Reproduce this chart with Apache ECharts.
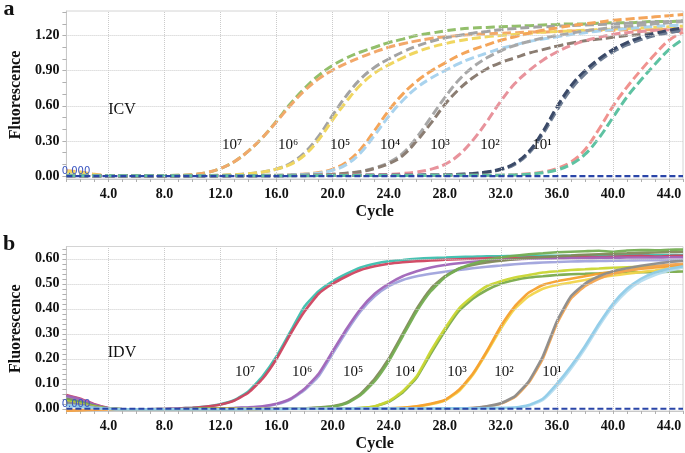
<!DOCTYPE html>
<html>
<head>
<meta charset="utf-8">
<script src="https://cdn.jsdelivr.net/npm/echarts@6/dist/echarts.min.js"></script>
<style>html,body{margin:0;padding:0;background:#fff;}#c{width:685px;height:453px;}</style>
</head>
<body>
<div id="c"></div>
<script>
var cycles = [1,2,3,4,5,6,7,8,9,10,11,12,13,14,15,16,17,18,19,20,21,22,23,24,25,26,27,28,29,30,31,32,33,34,35,36,37,38,39,40,41,42,43,44,45];
var xLabelVals = [4,8,12,16,20,24,28,32,36,40,44];
var topYLabelVals = [0,0.3,0.6,0.9,1.2];
var topYTickVals = [0,0.1,0.2,0.3,0.4,0.5,0.6,0.7,0.8,0.9,1.0,1.1,1.2,1.3,1.4];
var botYLabelVals = [0,0.1,0.2,0.3,0.4,0.5,0.6];
var botYTickVals = [0,0.02,0.04,0.06,0.08,0.1,0.12,0.14,0.16,0.18,0.2,0.22,0.24,0.26,0.28,0.3,0.32,0.34,0.36,0.38,0.4,0.42,0.44,0.46,0.48,0.5,0.52,0.54,0.56,0.58,0.6,0.62,0.64];
var dilutions = ['10\u2077','10\u2076','10\u2075','10\u2074','10\u00b3','10\u00b2','10\u00b9'];

// ICV (panel a) – dashed curves
var icv7a = [0.010,0.008,0.005,0.003,0.002, 0.002,0.003,0.004,0.006,0.012, 0.030,0.065,0.125,0.215,0.330, 0.470,0.620,0.750,0.860,0.945, 1.010,1.060,1.100,1.140,1.170, 1.200,1.220,1.240,1.255,1.265, 1.270,1.275,1.280,1.285,1.290, 1.295,1.300,1.300,1.305,1.310, 1.310,1.315,1.320,1.320,1.325];
var icv7b = [0.045,0.035,0.015,0.004,0.002, 0.002,0.003,0.004,0.006,0.012, 0.030,0.065,0.125,0.215,0.330, 0.465,0.605,0.730,0.830,0.905, 0.965,1.015,1.060,1.100,1.130, 1.155,1.175,1.190,1.200,1.210, 1.215,1.220,1.225,1.230,1.230, 1.235,1.240,1.240,1.245,1.245, 1.250,1.250,1.250,1.255,1.255];
var icv6a = [0.005,0.004,0.003,0.002,0.002, 0.002,0.002,0.003,0.003,0.004, 0.005,0.007,0.012,0.020,0.035, 0.060,0.110,0.200,0.340,0.520, 0.690,0.830,0.930,1.000,1.060, 1.110,1.150,1.180,1.200,1.220, 1.235,1.250,1.260,1.270,1.275, 1.280,1.285,1.290,1.295,1.300, 1.305,1.310,1.315,1.320,1.325];
var icv6b = [0.040,0.030,0.012,0.003,0.002, 0.002,0.002,0.003,0.003,0.004, 0.005,0.007,0.012,0.020,0.035, 0.060,0.100,0.180,0.310,0.480, 0.640,0.780,0.880,0.950,1.010, 1.060,1.100,1.130,1.155,1.175, 1.190,1.200,1.210,1.220,1.230, 1.235,1.240,1.245,1.250,1.255, 1.260,1.265,1.270,1.275,1.280];
var icv5a = [0.005,0.004,0.003,0.002,0.002, 0.002,0.002,0.002,0.003,0.003, 0.003,0.004,0.004,0.005,0.006, 0.008,0.012,0.018,0.030,0.060, 0.120,0.230,0.390,0.560,0.700, 0.810,0.895,0.965,1.030,1.080, 1.120,1.160,1.190,1.220,1.245, 1.265,1.285,1.300,1.315,1.330, 1.340,1.350,1.360,1.370,1.380];
var icv5b = [0.005,0.004,0.003,0.002,0.002, 0.002,0.002,0.002,0.003,0.003, 0.003,0.004,0.004,0.005,0.006, 0.008,0.011,0.016,0.025,0.050, 0.100,0.200,0.350,0.510,0.645, 0.755,0.835,0.900,0.960,1.010, 1.050,1.090,1.120,1.150,1.170, 1.190,1.210,1.225,1.240,1.250, 1.260,1.270,1.280,1.285,1.290];
var icv4a = [0.004,0.003,0.002,0.002,0.002, 0.002,0.002,0.002,0.002,0.003, 0.003,0.003,0.004,0.004,0.005, 0.005,0.006,0.008,0.010,0.015, 0.025,0.040,0.070,0.115,0.195, 0.330,0.500,0.670,0.820,0.930, 1.010,1.070,1.115,1.150,1.180, 1.200,1.220,1.240,1.255,1.270, 1.280,1.290,1.300,1.310,1.320];
var icv4b = [0.004,0.003,0.002,0.002,0.002, 0.002,0.002,0.002,0.002,0.003, 0.003,0.003,0.004,0.004,0.005, 0.005,0.006,0.008,0.010,0.015, 0.024,0.038,0.065,0.105,0.175, 0.300,0.450,0.610,0.740,0.840, 0.915,0.970,1.010,1.050,1.080, 1.110,1.135,1.155,1.170,1.185, 1.200,1.210,1.220,1.230,1.240];
var icv3a = [0.003,0.003,0.002,0.002,0.002, 0.002,0.002,0.002,0.002,0.002, 0.002,0.003,0.003,0.003,0.004, 0.004,0.005,0.005,0.006,0.007, 0.008,0.009,0.010,0.015,0.022, 0.035,0.058,0.100,0.180,0.305, 0.465,0.640,0.790,0.900,0.990, 1.060,1.115,1.155,1.185,1.210, 1.225,1.235,1.245,1.250,1.255];
var icv2a = [0.003,0.003,0.002,0.002,0.002, 0.002,0.002,0.002,0.002,0.002, 0.002,0.002,0.003,0.003,0.003, 0.003,0.004,0.004,0.004,0.005, 0.005,0.006,0.006,0.007,0.007, 0.008,0.009,0.010,0.015,0.022, 0.035,0.060,0.110,0.210,0.380, 0.590,0.770,0.900,1.000,1.080, 1.140,1.185,1.220,1.245,1.265];
var icv2b = [0.003,0.003,0.002,0.002,0.002, 0.002,0.002,0.002,0.002,0.002, 0.002,0.002,0.003,0.003,0.003, 0.003,0.004,0.004,0.004,0.005, 0.005,0.006,0.006,0.007,0.007, 0.008,0.009,0.010,0.014,0.020, 0.033,0.055,0.100,0.195,0.360, 0.560,0.740,0.870,0.980,1.060, 1.120,1.165,1.200,1.225,1.245];
var icv1a = [0.003,0.003,0.002,0.002,0.002, 0.002,0.002,0.002,0.002,0.002, 0.002,0.002,0.002,0.003,0.003, 0.003,0.003,0.003,0.004,0.004, 0.004,0.004,0.005,0.005,0.005, 0.005,0.006,0.006,0.006,0.007, 0.007,0.008,0.012,0.020,0.035, 0.065,0.120,0.225,0.400,0.595, 0.760,0.905,1.040,1.160,1.230];
var icv1b = [0.003,0.003,0.002,0.002,0.002, 0.002,0.002,0.002,0.002,0.002, 0.002,0.002,0.002,0.003,0.003, 0.003,0.003,0.003,0.004,0.004, 0.004,0.004,0.005,0.005,0.005, 0.005,0.006,0.006,0.006,0.007, 0.007,0.008,0.010,0.016,0.028, 0.052,0.100,0.185,0.325,0.500, 0.675,0.820,0.955,1.080,1.170];

// IDV (panel b) – solid curves
var idv7a = [0.050,0.035,0.015,0.002,-0.002, -0.002,-0.002,-0.001,0.001,0.004, 0.009,0.018,0.035,0.070,0.130, 0.210,0.310,0.410,0.470,0.510, 0.540,0.565,0.580,0.590,0.595, 0.600,0.603,0.605,0.607,0.608, 0.610,0.610,0.611,0.611,0.612, 0.612,0.612,0.613,0.613,0.613, 0.614,0.614,0.614,0.615,0.615];
var idv7b = [0.055,0.040,0.018,0.003,-0.002, -0.002,-0.002,-0.001,0.001,0.004, 0.009,0.017,0.033,0.065,0.120, 0.200,0.300,0.390,0.460,0.500, 0.530,0.555,0.570,0.580,0.586, 0.590,0.593,0.596,0.598,0.600, 0.602,0.604,0.603,0.605,0.606, 0.604,0.606,0.607,0.606,0.608, 0.610,0.612,0.609,0.611,0.612];
var idv6a = [0.052,0.038,0.016,0.002,-0.002, -0.002,-0.002,-0.002,-0.001,0.000, 0.000,0.001,0.003,0.006,0.010, 0.020,0.040,0.080,0.140,0.230, 0.320,0.400,0.460,0.500,0.530, 0.550,0.565,0.575,0.582,0.588, 0.592,0.595,0.598,0.600,0.601, 0.602,0.603,0.603,0.604,0.604, 0.605,0.605,0.605,0.606,0.606];
var idv6b = [0.045,0.032,0.013,0.001,-0.002, -0.002,-0.002,-0.002,-0.001,0.000, 0.000,0.001,0.003,0.005,0.009, 0.018,0.037,0.075,0.130,0.220, 0.310,0.390,0.450,0.490,0.515, 0.530,0.540,0.548,0.555,0.562, 0.568,0.573,0.578,0.582,0.585, 0.587,0.589,0.590,0.591,0.592, 0.593,0.594,0.594,0.595,0.595];
var idv5a = [0.040,0.028,0.012,0.001,-0.002, -0.002,-0.002,-0.002,-0.002,-0.001, 0.000,0.000,0.000,0.001,0.001, 0.001,0.002,0.002,0.005,0.010, 0.025,0.060,0.120,0.200,0.300, 0.400,0.480,0.530,0.560,0.575, 0.585,0.592,0.598,0.603,0.607, 0.610,0.613,0.616,0.618,0.620, 0.622,0.624,0.625,0.627,0.628];
var idv5b = [0.035,0.025,0.010,0.001,-0.002, -0.002,-0.002,-0.002,-0.002,-0.001, 0.000,0.000,0.000,0.001,0.001, 0.001,0.002,0.002,0.004,0.009, 0.022,0.055,0.110,0.190,0.290, 0.390,0.470,0.525,0.560,0.580, 0.595,0.605,0.612,0.618,0.622, 0.626,0.628,0.630,0.632,0.628, 0.633,0.635,0.634,0.636,0.637];
var idv4a = [0.030,0.020,0.008,0.000,-0.002, -0.002,-0.002,-0.002,-0.002,-0.002, -0.001,-0.001,0.000,0.000,0.000, 0.001,0.001,0.001,0.001,0.002, 0.002,0.003,0.010,0.030,0.070, 0.130,0.230,0.320,0.400,0.450, 0.490,0.510,0.525,0.535,0.545, 0.550,0.555,0.558,0.561,0.564, 0.566,0.568,0.570,0.572,0.574];
var idv4b = [0.030,0.020,0.008,0.000,-0.002, -0.002,-0.002,-0.002,-0.002,-0.002, -0.001,-0.001,0.000,0.000,0.000, 0.001,0.001,0.001,0.001,0.002, 0.002,0.003,0.009,0.028,0.065, 0.125,0.220,0.310,0.390,0.440, 0.475,0.500,0.515,0.525,0.530, 0.535,0.538,0.540,0.542,0.544, 0.545,0.546,0.547,0.548,0.549];
var idv3a = [-0.008,-0.006,-0.004,-0.002,-0.002, -0.002,-0.002,-0.002,-0.002,-0.002, -0.002,-0.001,-0.001,-0.001,0.000, 0.000,0.000,0.000,0.001,0.001, 0.001,0.001,0.002,0.002,0.004, 0.010,0.020,0.035,0.075,0.140, 0.230,0.330,0.410,0.465,0.495, 0.510,0.520,0.530,0.540,0.547, 0.553,0.560,0.565,0.570,0.575];
var idv3b = [0.020,0.012,0.005,0.000,-0.002, -0.002,-0.002,-0.002,-0.002,-0.002, -0.002,-0.001,-0.001,-0.001,0.000, 0.000,0.000,0.000,0.001,0.001, 0.001,0.001,0.002,0.002,0.004, 0.009,0.018,0.033,0.070,0.135, 0.225,0.320,0.400,0.450,0.480, 0.495,0.505,0.515,0.525,0.533, 0.540,0.547,0.553,0.560,0.565];
var idv2a = [0.025,0.016,0.006,0.000,-0.002, -0.002,-0.002,-0.002,-0.002,-0.002, -0.002,-0.002,-0.001,-0.001,-0.001, 0.000,0.000,0.000,0.000,0.000, 0.001,0.001,0.001,0.001,0.001, 0.002,0.002,0.002,0.002,0.003, 0.010,0.022,0.050,0.110,0.210, 0.350,0.450,0.500,0.530,0.550, 0.562,0.572,0.580,0.587,0.592];
var idv2b = [-0.006,-0.005,-0.003,-0.002,-0.002, -0.002,-0.002,-0.002,-0.002,-0.002, -0.002,-0.002,-0.001,-0.001,-0.001, 0.000,0.000,0.000,0.000,0.000, 0.001,0.001,0.001,0.001,0.001, 0.002,0.002,0.002,0.002,0.003, 0.009,0.020,0.047,0.105,0.200, 0.340,0.440,0.490,0.520,0.540, 0.552,0.562,0.570,0.576,0.580];
var idv1a = [0.015,0.010,0.004,0.000,-0.002, -0.002,-0.002,-0.002,-0.002,-0.002, -0.002,-0.002,-0.002,-0.001,-0.001, -0.001,0.000,0.000,0.000,0.000, 0.000,0.001,0.001,0.001,0.001, 0.001,0.001,0.002,0.002,0.002, 0.002,0.003,0.005,0.015,0.040, 0.100,0.170,0.250,0.340,0.420, 0.480,0.520,0.545,0.560,0.570];
var idv1b = [0.010,0.006,0.002,0.000,-0.002, -0.002,-0.002,-0.002,-0.002,-0.002, -0.002,-0.002,-0.002,-0.001,-0.001, -0.001,0.000,0.000,0.000,0.000, 0.000,0.001,0.001,0.001,0.001, 0.001,0.001,0.002,0.002,0.002, 0.002,0.003,0.004,0.012,0.035, 0.090,0.160,0.240,0.330,0.410, 0.470,0.510,0.535,0.552,0.565];

var threshold = 0;

var icvSeries = [
  [icv7a,'#93bf6b'],[icv7b,'#f2a86a'],[icv6a,'#a3a3a3'],[icv6b,'#f0d660'],
  [icv5a,'#f4a55a'],[icv5b,'#a9d3ee'],[icv4a,'#a8a8a8'],[icv4b,'#8b7d72'],
  [icv3a,'#e8939c'],[icv2b,'#6e7d93'],[icv2a,'#3b4a68'],[icv1a,'#f0928f'],[icv1b,'#5ec2a2']
];
var idvSeries = [
  [idv7a,'#3dbfae'],[idv7b,'#d0435f'],[idv6b,'#a0a3dc'],[idv6a,'#a064b8'],
  [idv5a,'#828a58'],[idv5b,'#74ad52'],[idv4b,'#7aab4c'],[idv4a,'#c9d631'],
  [idv3b,'#f2d54b'],[idv3a,'#f5a02e'],[idv2b,'#f3a450'],[idv2a,'#8c8c8c'],
  [idv1b,'#b5dcef'],[idv1a,'#8fcbe8']
];

function pts(arr){ return cycles.map(function(c,i){ return [c, arr[i]]; }); }

var serif = 'Liberation Serif, Times New Roman, serif';
var labelStyle = {fontFamily: serif, fontWeight: 'bold', fontSize: 14, color: '#111'};

function xAx(gi){
  return {
    type: 'value', gridIndex: gi, min: cycles[0], max: cycles[cycles.length-1],
    name: 'Cycle', nameLocation: 'middle', nameGap: 25,
    nameTextStyle: {fontFamily: serif, fontWeight: 'bold', fontSize: 16, color: '#111'},
    axisLine: {show: true, onZero: false, lineStyle: {color: '#c8c8c8'}},
    axisTick: {show: true, length: 3, customValues: cycles, lineStyle: {color: '#b0b0b0'}},
    axisLabel: Object.assign({margin: 8, customValues: xLabelVals,
      formatter: function(v){ return Number(v).toFixed(1); }}, labelStyle),
    splitLine: {show: false}
  };
}
function yAx(gi, min, max, labelVals, tickVals){
  return {
    type: 'value', gridIndex: gi, min: min, max: max,
    name: 'Fluorescence', nameLocation: 'middle', nameGap: 41, nameRotate: 90,
    nameTextStyle: {fontFamily: serif, fontWeight: 'bold', fontSize: 16, color: '#111'},
    axisLine: {show: true, onZero: false, lineStyle: {color: '#c8c8c8'}},
    axisTick: {show: true, length: 4, customValues: tickVals, lineStyle: {color: '#b0b0b0'}},
    axisLabel: Object.assign({margin: 7, customValues: labelVals,
      formatter: function(v){ return Number(v).toFixed(2); }}, labelStyle),
    splitLine: {show: false}
  };
}

var gridLineStyle = {color: '#cbcbcb', type: 'dotted', width: 1};
function gridLines(xi, yi, yVals){
  var d = xLabelVals.map(function(v){ return {xAxis: v}; })
    .concat(yVals.map(function(v){ return {yAxis: v}; }));
  return {type: 'line', xAxisIndex: xi, yAxisIndex: yi, data: [], z: 0, silent: true,
    markLine: {silent: true, symbol: 'none', animation: false, label: {show: false},
      lineStyle: gridLineStyle, emphasis: {disabled: true}, data: d}};
}

var series = [gridLines(0, 0, topYLabelVals.slice(1)), gridLines(1, 1, botYLabelVals.slice(1))];
icvSeries.forEach(function(s){
  series.push({type: 'line', xAxisIndex: 0, yAxisIndex: 0, data: pts(s[0]), smooth: 0.4, z: 2,
    showSymbol: false, silent: true, lineStyle: {color: s[1], width: 3, type: [9, 4]}});
});
idvSeries.forEach(function(s){
  series.push({type: 'line', xAxisIndex: 1, yAxisIndex: 1, data: pts(s[0]), smooth: 0.15, z: 2,
    showSymbol: false, silent: true, lineStyle: {color: s[1], width: 2.6, opacity: 0.95}});
});
[0, 1].forEach(function(ix){
  series.push({type: 'line', xAxisIndex: ix, yAxisIndex: ix, z: 5,
    data: cycles.map(function(c){ return [c, threshold]; }),
    showSymbol: false, silent: true, lineStyle: {color: '#2a45a8', width: 2.2, type: [6, 3]}});
});

function txt(x, y, t, font, color){
  return {type: 'text', x: x, y: y, z: 100,
    style: {text: t, font: font, fill: color || '#111', textAlign: 'center', textVerticalAlign: 'middle'}};
}
var dilTop = [232, 288, 340, 390, 440, 490, 542];
var dilBot = [245, 302, 353, 405, 457, 504, 552];
var graphics = [
  txt(9, 9, 'a', 'bold 22px ' + serif),
  txt(9, 244, 'b', 'bold 22px ' + serif),
  txt(122, 110, 'ICV', '16px ' + serif),
  txt(122, 353, 'IDV', '16px ' + serif),
  txt(76, 171, '0.000', '10px DejaVu Sans', '#3a55c0'),
  txt(76, 404, '0.000', '10px DejaVu Sans', '#3a55c0')
];
dilutions.forEach(function(d, i){
  graphics.push(txt(dilTop[i], 145, d, '15px ' + serif));
  graphics.push(txt(dilBot[i], 372, d, '15px ' + serif));
});

var chart = echarts.init(document.getElementById('c'), null, {renderer: 'canvas'});
chart.setOption({
  animation: false,
  backgroundColor: '#fff',
  grid: [
    {left: 60, right: 2, top: 11, height: 168, show: true, borderColor: '#d4d4d4', borderWidth: 1, backgroundColor: 'transparent'},
    {left: 60, right: 2, top: 246.5, height: 166.5, show: true, borderColor: '#d4d4d4', borderWidth: 1, backgroundColor: 'transparent'}
  ],
  xAxis: [xAx(0), xAx(1)],
  yAxis: [yAx(0, -0.025, 1.41, topYLabelVals, topYTickVals), yAx(1, -0.009, 0.649, botYLabelVals, botYTickVals)],
  series: series,
  graphic: graphics
});
</script>
</body>
</html>
